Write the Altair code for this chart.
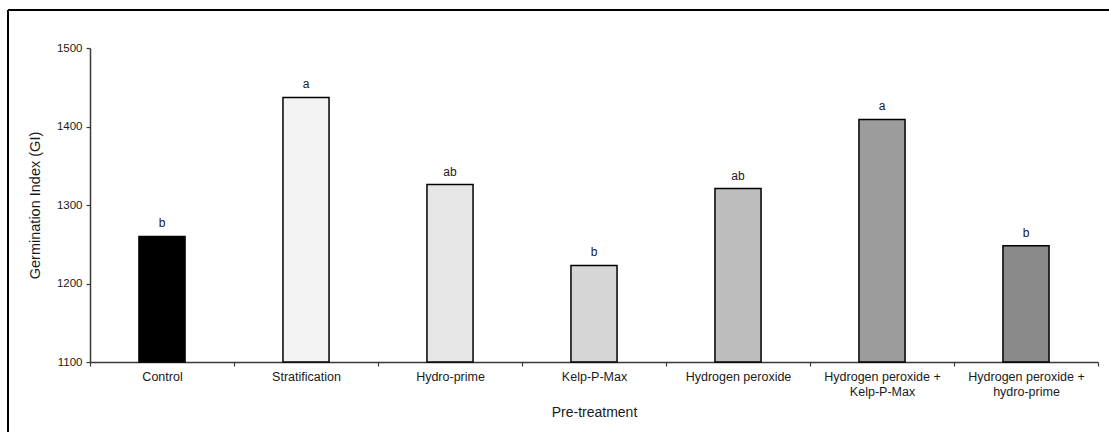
import altair as alt
import pandas as pd

# Pre-treatment groups, mean germination index and significance letters
treatments = [
    "Control",
    "Stratification",
    "Hydro-prime",
    "Kelp-P-Max",
    "Hydrogen peroxide",
    "Hydrogen peroxide + Kelp-P-Max",
    "Hydrogen peroxide + hydro-prime",
]
gi_values = [1260, 1437, 1326, 1223, 1321, 1409, 1248]
letters = ["b", "a", "ab", "b", "ab", "a", "b"]
# grey tones standing in for the hatch/dot fills of each bar
fills = ["#000000", "#f3f3f3", "#e6e6e6", "#d6d6d6", "#bdbdbd", "#9c9c9c", "#8a8a8a"]
Y_MIN, Y_MAX = 1100, 1500

df = pd.DataFrame({
    "treatment": treatments,
    "gi": gi_values,
    "letter": letters,
    "fill": fills,
})

FONT = "Liberation Sans"
AXIS_GREY = "#3a3a3a"
TEXT_COLOR = "#1a1a1a"

x_enc = alt.X(
    "treatment:N",
    sort=treatments,
    scale=alt.Scale(paddingInner=0, paddingOuter=0),
    axis=alt.Axis(
        title="Pre-treatment",
        labelAngle=0,
        grid=False,
        tickBand="extent",
        tickSize=4,
        labelPadding=4,
        labelFontSize=12.5,
        labelLineHeight=15,
        labelExpr="split(replace(datum.label, '+ ', '+|'), '|')",
        titleFontSize=14,
        titleFontWeight="normal",
        titlePadding=8,
    ),
)
y_enc = alt.Y(
    "gi:Q",
    scale=alt.Scale(domain=[Y_MIN, Y_MAX], nice=False, zero=False),
    axis=alt.Axis(
        title="Germination Index (GI)",
        values=list(range(Y_MIN, Y_MAX + 1, 50)),
        format="d",
        grid=False,
        tickSize=4,
        labelPadding=4,
        labelFontSize=11.5,
        titleFontSize=14.5,
        titleFontWeight="normal",
        titlePadding=14,
    ),
)

bars = alt.Chart(df).mark_bar(
    width=alt.RelativeBandSize(0.32),
    stroke="#000000",
    strokeWidth=1.5,
).encode(
    x=x_enc,
    y=y_enc,
    y2=alt.datum(Y_MIN),
    fill=alt.Fill("fill:N", scale=None),
)

labels = alt.Chart(df).mark_text(
    baseline="bottom",
    dy=-6,
    fontSize=12,
    font=FONT,
    fill=TEXT_COLOR,
).encode(
    x=alt.X("treatment:N", sort=treatments),
    y=alt.Y("gi:Q"),
    text="letter:N",
)

# outer frame lines (top and left edges of the figure box)
frame_top = alt.Chart(df).mark_rule(color="#000000", strokeWidth=2).encode(
    x=alt.value(-82), x2=alt.value(1040), y=alt.value(-38)
)
frame_left = alt.Chart(df).mark_rule(color="#000000", strokeWidth=2).encode(
    x=alt.value(-82), y=alt.value(-38), y2=alt.value(400)
)

chart = alt.layer(bars, labels, frame_top, frame_left).properties(
    width=1008,
    height=314,
    background="white",
    autosize=alt.AutoSizeParams(type="none"),
    padding={"left": 90, "top": 48, "right": 11, "bottom": 70},
).configure_view(
    strokeWidth=0,
    stroke="transparent",
).configure_axis(
    labelFont=FONT,
    titleFont=FONT,
    labelColor=TEXT_COLOR,
    titleColor=TEXT_COLOR,
    domainColor=AXIS_GREY,
    domainWidth=1.5,
    tickColor=AXIS_GREY,
    tickWidth=1.2,
)

chart.save("out.html", embed_options={"renderer": "svg", "actions": False})
